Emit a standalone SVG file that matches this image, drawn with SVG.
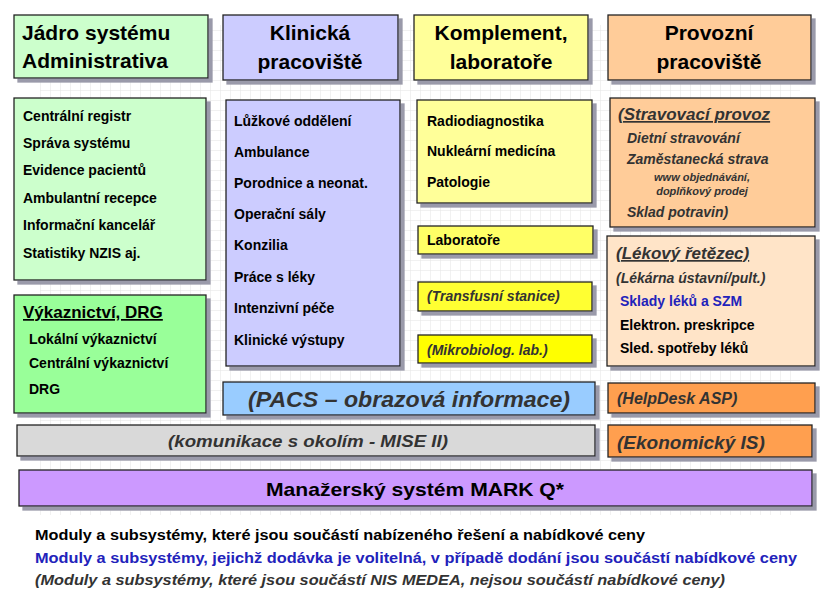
<svg xmlns="http://www.w3.org/2000/svg" width="832" height="600" viewBox="0 0 832 600">
<defs>
<pattern id="grid" width="10" height="10" patternUnits="userSpaceOnUse"><path d="M10 0H0V10" fill="none" stroke="#e4e4e4" stroke-width="1"/></pattern>
<filter id="sh" x="-5%" y="-5%" width="115%" height="130%"><feOffset dx="4" dy="4" in="SourceAlpha" result="o"/><feFlood flood-color="#9a9aaa" result="c"/><feComposite in="c" in2="o" operator="in" result="s"/><feMerge><feMergeNode in="s"/><feMergeNode in="SourceGraphic"/></feMerge></filter>
</defs>
<style>
rect.b{stroke:#222;stroke-width:1.3;filter:url(#sh)}
text{font-family:"Liberation Sans",Arial,sans-serif;font-weight:bold;fill:#000}
.h{font-size:21px}
.i{font-size:14px}
.it{font-style:italic;fill:#333}
.bl{fill:#2222bb}
.u{text-decoration:underline}
</style>
<rect width="832" height="600" fill="#fff"/>
<rect x="40" y="25" width="760" height="490" fill="url(#grid)"/>
<g id="h1"><rect class="b" x="14" y="15" width="194" height="63" fill="#ccffcc"/><text class="h" x="22" y="40">Jádro systému</text><text class="h" x="22" y="68">Administrativa</text></g>
<g id="h2"><rect class="b" x="223" y="15" width="175" height="65" fill="#ccccff"/><text class="h" x="310" y="40" text-anchor="middle">Klinická</text><text class="h" x="310" y="69" text-anchor="middle">pracoviště</text></g>
<g id="h3"><rect class="b" x="414" y="15" width="174" height="65" fill="#ffff99"/><text class="h" x="501" y="40" text-anchor="middle">Komplement,</text><text class="h" x="501" y="69" text-anchor="middle">laboratoře</text></g>
<g id="h4"><rect class="b" x="608" y="15" width="203" height="65" fill="#ffcc99"/><text class="h" x="709" y="40" text-anchor="middle">Provozní</text><text class="h" x="709" y="69" text-anchor="middle">pracoviště</text></g>
<g id="admin"><rect class="b" x="14" y="98" width="192" height="182" fill="#ccffcc"/>
<text class="i" x="23" y="121">Centrální registr</text><text class="i" x="23" y="148">Správa systému</text><text class="i" x="23" y="175">Evidence pacientů</text><text class="i" x="23" y="203">Ambulantní recepce</text><text class="i" x="23" y="230">Informační kancelář</text><text class="i" x="23" y="258">Statistiky NZIS aj.</text></g>
<g id="klin"><rect class="b" x="226" y="100" width="174" height="266" fill="#ccccff"/>
<text class="i" x="234" y="126">Lůžkové oddělení</text><text class="i" x="234" y="157">Ambulance</text><text class="i" x="234" y="188">Porodnice a neonat.</text><text class="i" x="234" y="219">Operační sály</text><text class="i" x="234" y="250">Konzilia</text><text class="i" x="234" y="282">Práce s léky</text><text class="i" x="234" y="313">Intenzivní péče</text><text class="i" x="234" y="345">Klinické výstupy</text></g>
<g id="kompl"><rect class="b" x="417" y="100" width="175" height="103" fill="#ffff99"/>
<text class="i" x="427" y="126">Radiodiagnostika</text><text class="i" x="427" y="156">Nukleární medicína</text><text class="i" x="427" y="187">Patologie</text></g>
<g id="strav"><rect class="b" x="610" y="98" width="205" height="129" fill="#ffcc99"/>
<text class="it u" x="618" y="120" font-size="17px">(Stravovací provoz</text>
<text class="it" x="627" y="143" font-size="14px">Dietní stravování</text>
<text class="it" x="627" y="164" font-size="14px">Zaměstanecká strava</text>
<text class="it" x="702" y="181" font-size="11px" text-anchor="middle">www objednávání,</text>
<text class="it" x="702" y="195" font-size="11px" text-anchor="middle">doplňkový prodej</text>
<text class="it" x="627" y="217" font-size="14px">Sklad potravin)</text></g>
<g id="lab"><rect class="b" x="418" y="226" width="175" height="28" fill="#ffff66"/><text class="i" x="427" y="245">Laboratoře</text></g>
<g id="trans"><rect class="b" x="418" y="282" width="174" height="29" fill="#ffff33"/><text class="it" x="427" y="301" font-size="14px">(Transfusní stanice)</text></g>
<g id="mikro"><rect class="b" x="418" y="335" width="174" height="28" fill="#ffff00"/><text class="it" x="427" y="355" font-size="14px">(Mikrobiolog. lab.)</text></g>
<g id="lek"><rect class="b" x="607" y="236" width="208" height="130" fill="#ffe4c8"/>
<text class="it u" x="616" y="259" font-size="17px">(Lékový řetězec)</text>
<text class="it" x="616" y="283" font-size="14px">(Lékárna ústavní/pult.)</text>
<text class="i bl" x="620" y="306">Sklady léků a SZM</text>
<text class="i" x="620" y="330">Elektron. preskripce</text>
<text class="i" x="620" y="353">Sled. spotřeby léků</text></g>
<g id="vyk"><rect class="b" x="14" y="295" width="192" height="118" fill="#99ff99"/>
<text class="u" x="23" y="318" font-size="17px">Výkaznictví, DRG</text>
<text class="i" x="29" y="344">Lokální výkaznictví</text><text class="i" x="29" y="368">Centrální výkaznictví</text><text class="i" x="29" y="394">DRG</text></g>
<g id="pacs"><rect class="b" x="223" y="382" width="372" height="33" fill="#99ccff"/><text class="it" x="409" y="407" font-size="22px" text-anchor="middle" textLength="322" lengthAdjust="spacingAndGlyphs">(PACS – obrazová informace)</text></g>
<g id="help"><rect class="b" x="608" y="383" width="207" height="30" fill="#ff9f4f"/><text class="it" x="617" y="404" font-size="16px">(HelpDesk ASP)</text></g>
<g id="kom"><rect class="b" x="17" y="425" width="578" height="31" fill="#d9d9d9"/><text class="it" x="308" y="447" font-size="17px" text-anchor="middle" textLength="280" lengthAdjust="spacingAndGlyphs">(komunikace s okolím - MISE II)</text></g>
<g id="eko"><rect class="b" x="608" y="425" width="204" height="32" fill="#ff9f4f"/><text class="it" x="617" y="449" font-size="19px">(Ekonomický IS)</text></g>
<g id="mark"><rect class="b" x="19" y="470" width="793" height="36" fill="#cc99ff"/><text x="415" y="496" font-size="19px" text-anchor="middle" textLength="298" lengthAdjust="spacingAndGlyphs">Manažerský systém MARK Q*</text></g>
<g id="legend">
<text class="i" x="35" y="540" font-size="15px" textLength="610" lengthAdjust="spacingAndGlyphs">Moduly a subsystémy, které jsou součástí nabízeného řešení a nabídkové ceny</text>
<text class="i bl" x="35" y="563" font-size="15px" textLength="762" lengthAdjust="spacingAndGlyphs">Moduly a subsystémy, jejichž dodávka je volitelná, v případě dodání jsou součástí nabídkové ceny</text>
<text class="i it" x="35" y="585" font-size="15px" textLength="690" lengthAdjust="spacingAndGlyphs">(Moduly a subsystémy, které jsou součástí NIS MEDEA, nejsou součástí nabídkové ceny)</text>
</g>
<g id="connectors"/>
</svg>
